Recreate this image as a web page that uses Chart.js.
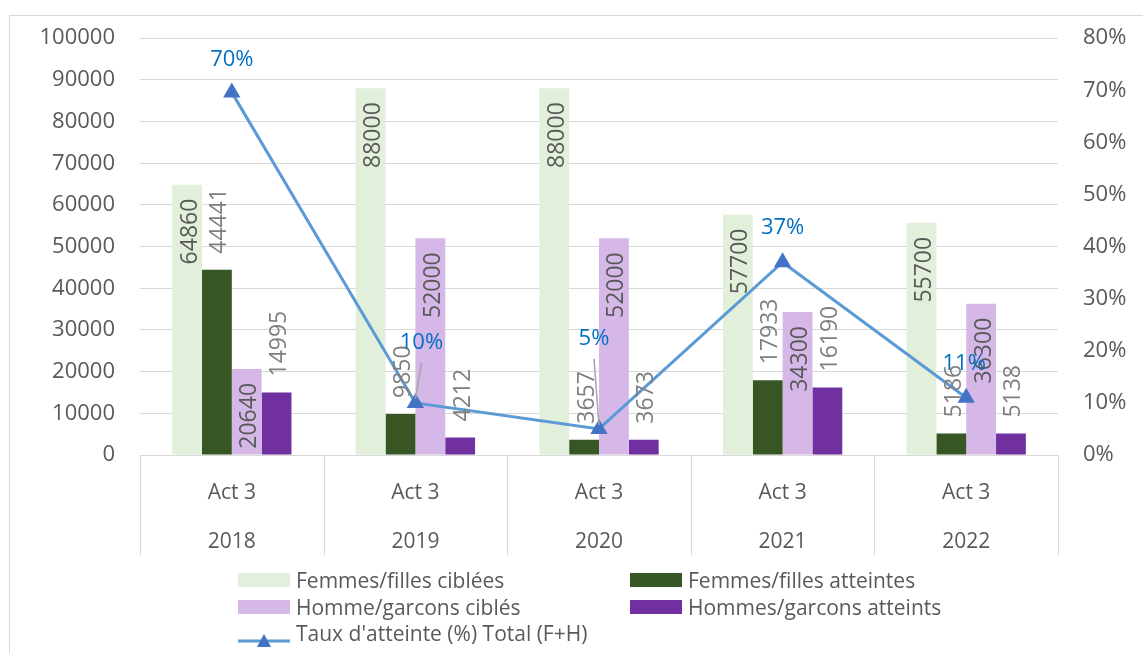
<!DOCTYPE html>
<html>
<head>
<meta charset="utf-8">
<script src="https://cdn.jsdelivr.net/npm/chart.js@4.4.1/dist/chart.umd.min.js"></script>
<style>
    body { margin: 0; background: #fff; font-family: "Open Sans", sans-serif; }
    #wrap { position: relative; width: 1143px; height: 653px; overflow: hidden; }
    #frame { position: absolute; left: 9px; top: 15px; width: 1160px; height: 660px; border: 1px solid #d9d9d9; }
    #chart { position: absolute; left: 0; top: 0; }
    #legend { position: absolute; left: 238px; top: 567px; display: grid; grid-template-columns: 392px 400px; row-gap: 0; }
    .item { display: flex; align-items: center; height: 26.5px; font-size: 21px; color: #595959; white-space: nowrap; }
    .box { width: 52px; height: 14px; margin-right: 6px; }
    .line { width: 52px; height: 14px; margin-right: 6px; position: relative; }
</style>
</head>
<body>
<div id="wrap">
    <div id="frame"></div>
    <canvas id="chart" width="1143" height="653"></canvas>
    <div id="legend"></div>
</div>
<script>
// Données
const annees = ['2018', '2019', '2020', '2021', '2022'];
const activite = 'Act 3';
const femmesCiblees = [64860, 88000, 88000, 57700, 55700];
const femmesAtteintes = [44441, 9850, 3657, 17933, 5186];
const hommesCibles = [20640, 52000, 52000, 34300, 36300];
const hommesAtteints = [14995, 4212, 3673, 16190, 5138];
const tauxAtteinte = [69.6, 10, 5, 37, 11];

const couleurs = {
    femmesCiblees: '#E2EFDA',
    femmesAtteintes: '#375623',
    hommesCibles: '#D5B8E8',
    hommesAtteints: '#7030A0',
    ligne: '#5B9BD5',
    marqueur: '#4472C4',
    pourcent: '#0070C0',
    texte: '#595959',
    grille: '#D9D9D9'
};

// décalage des étiquettes % par rapport au point (px)
const decalageTauxY = [33, 60, 90, 34, 34];
const decalageTauxX = [0, 6, -5, 0, -2];

const police = '"Open Sans", sans-serif';

// Étiquettes des barres et de la ligne
const etiquettesPlugin = {
    id: 'etiquettes',
    afterDatasetsDraw(chart) {
        const ctx = chart.ctx;
        ctx.save();
        ctx.font = '23px ' + police;
        chart.data.datasets.forEach((ds, i) => {
            const meta = chart.getDatasetMeta(i);
            if (ds.type === 'line') return;
            meta.data.forEach((bar, j) => {
                ctx.save();
                ctx.translate(bar.x, bar.y);
                ctx.rotate(-Math.PI / 2);
                ctx.textBaseline = 'middle';
                if (ds.labelInside) {
                    ctx.fillStyle = '#595959';
                    ctx.textAlign = 'right';
                    ctx.fillText(ds.data[j], -14, 3);
                } else {
                    ctx.fillStyle = '#7f7f7f';
                    ctx.textAlign = 'left';
                    ctx.fillText(ds.data[j], 16, 3);
                }
                ctx.restore();
            });
        });
        // Taux
        const li = chart.data.datasets.findIndex(d => d.type === 'line');
        const meta = chart.getDatasetMeta(li);
        ctx.font = '22px ' + police;
        ctx.textAlign = 'center';
        ctx.textBaseline = 'middle';
        meta.data.forEach((pt, j) => {
            const dy = decalageTauxY[j];
            const dx = decalageTauxX[j];
            if (dy > 40) {
                ctx.strokeStyle = '#a6a6a6';
                ctx.lineWidth = 1.5;
                ctx.beginPath();
                ctx.moveTo(pt.x + dx, pt.y - dy + 20);
                ctx.lineTo(pt.x, pt.y - 4);
                ctx.stroke();
            }
            ctx.fillStyle = couleurs.pourcent;
            ctx.fillText(Math.round(tauxAtteinte[j]) + '%', pt.x + dx, pt.y - dy);
        });
        ctx.restore();
    }
};

// Séparateurs verticaux sous l'axe des catégories
const separateursPlugin = {
    id: 'separateurs',
    afterDraw(chart) {
        const x = chart.scales.x;
        const ctx = chart.ctx;
        const demi = (x.getPixelForValue(1) - x.getPixelForValue(0)) / 2;
        ctx.save();
        ctx.strokeStyle = couleurs.grille;
        ctx.lineWidth = 1;
        for (let i = 0; i <= annees.length; i++) {
            const px = Math.round(x.getPixelForValue(0) - demi + i * demi * 2) + 0.5;
            ctx.beginPath();
            ctx.moveTo(px, x.top);
            ctx.lineTo(px, x.top + 100);
            ctx.stroke();
        }
        ctx.restore();
    }
};

function initChart() {
    const ctx = document.getElementById('chart').getContext('2d');
    return new Chart(ctx, {
        type: 'bar',
        data: {
            labels: annees.map(a => [activite, a]),
            datasets: [
                {
                    type: 'line',
                    label: "Taux d'atteinte (%) Total (F+H)",
                    data: tauxAtteinte,
                    yAxisID: 'y1',
                    borderColor: couleurs.ligne,
                    borderWidth: 3,
                    pointStyle: 'triangle',
                    pointRadius: 7,
                    pointBackgroundColor: couleurs.marqueur,
                    pointBorderColor: couleurs.marqueur,
                    tension: 0,
                    order: 0
                },
                { label: 'Femmes/filles ciblées', data: femmesCiblees, backgroundColor: couleurs.femmesCiblees, labelInside: true, order: 1 },
                { label: 'Femmes/filles atteintes', data: femmesAtteintes, backgroundColor: couleurs.femmesAtteintes, labelInside: false, order: 1 },
                { label: 'Homme/garcons ciblés', data: hommesCibles, backgroundColor: couleurs.hommesCibles, labelInside: true, order: 1 },
                { label: 'Hommes/garcons atteints', data: hommesAtteints, backgroundColor: couleurs.hommesAtteints, labelInside: false, order: 1 }
            ]
        },
        options: {
            responsive: false,
            animation: false,
            barPercentage: 1,
            categoryPercentage: 0.65,
            layout: { padding: { top: 38, bottom: 98, left: 0, right: 0 } },
            plugins: {
                legend: { display: false },
                tooltip: { enabled: false }
            },
            scales: {
                x: {
                    grid: { display: false, drawTicks: false },
                    border: { display: true, color: couleurs.grille },
                    ticks: {
                        color: couleurs.texte,
                        font: { family: police, size: 21, lineHeight: 2.35 },
                        padding: 13,
                        maxRotation: 0
                    },
                    afterFit(scale) { scale.height = 100; }
                },
                y: {
                    min: 0,
                    max: 100000,
                    ticks: {
                        stepSize: 10000,
                        color: couleurs.texte,
                        font: { family: police, size: 22 },
                        padding: 25,
                        callback: v => String(v)
                    },
                    grid: { color: couleurs.grille, drawTicks: false },
                    border: { display: false },
                    afterFit(scale) { scale.width = 140; }
                },
                y1: {
                    position: 'right',
                    min: 0,
                    max: 80,
                    ticks: {
                        stepSize: 10,
                        color: couleurs.texte,
                        font: { family: police, size: 22 },
                        padding: 25,
                        callback: v => v + '%'
                    },
                    grid: { drawOnChartArea: false, drawTicks: false },
                    border: { display: false },
                    afterFit(scale) { scale.width = 85; }
                }
            }
        },
        plugins: [etiquettesPlugin, separateursPlugin]
    });
}

function renderLegend(chart) {
    const ordre = [1, 2, 3, 4, 0];
    const html = ordre.map(i => {
        const ds = chart.data.datasets[i];
        let symbole;
        if (ds.type === 'line') {
            symbole = `<span class="line"><svg width="52" height="14"><line x1="0" y1="7" x2="52" y2="7" stroke="${ds.borderColor}" stroke-width="3"/><polygon points="26,0 33,13 19,13" fill="${ds.pointBackgroundColor}"/></svg></span>`;
        } else {
            symbole = `<span class="box" style="background:${ds.backgroundColor}"></span>`;
        }
        return `<div class="item">${symbole}${ds.label}</div>`;
    }).join('');
    document.getElementById('legend').innerHTML = html;
}

const chart = initChart();
renderLegend(chart);
</script>
</body>
</html>
